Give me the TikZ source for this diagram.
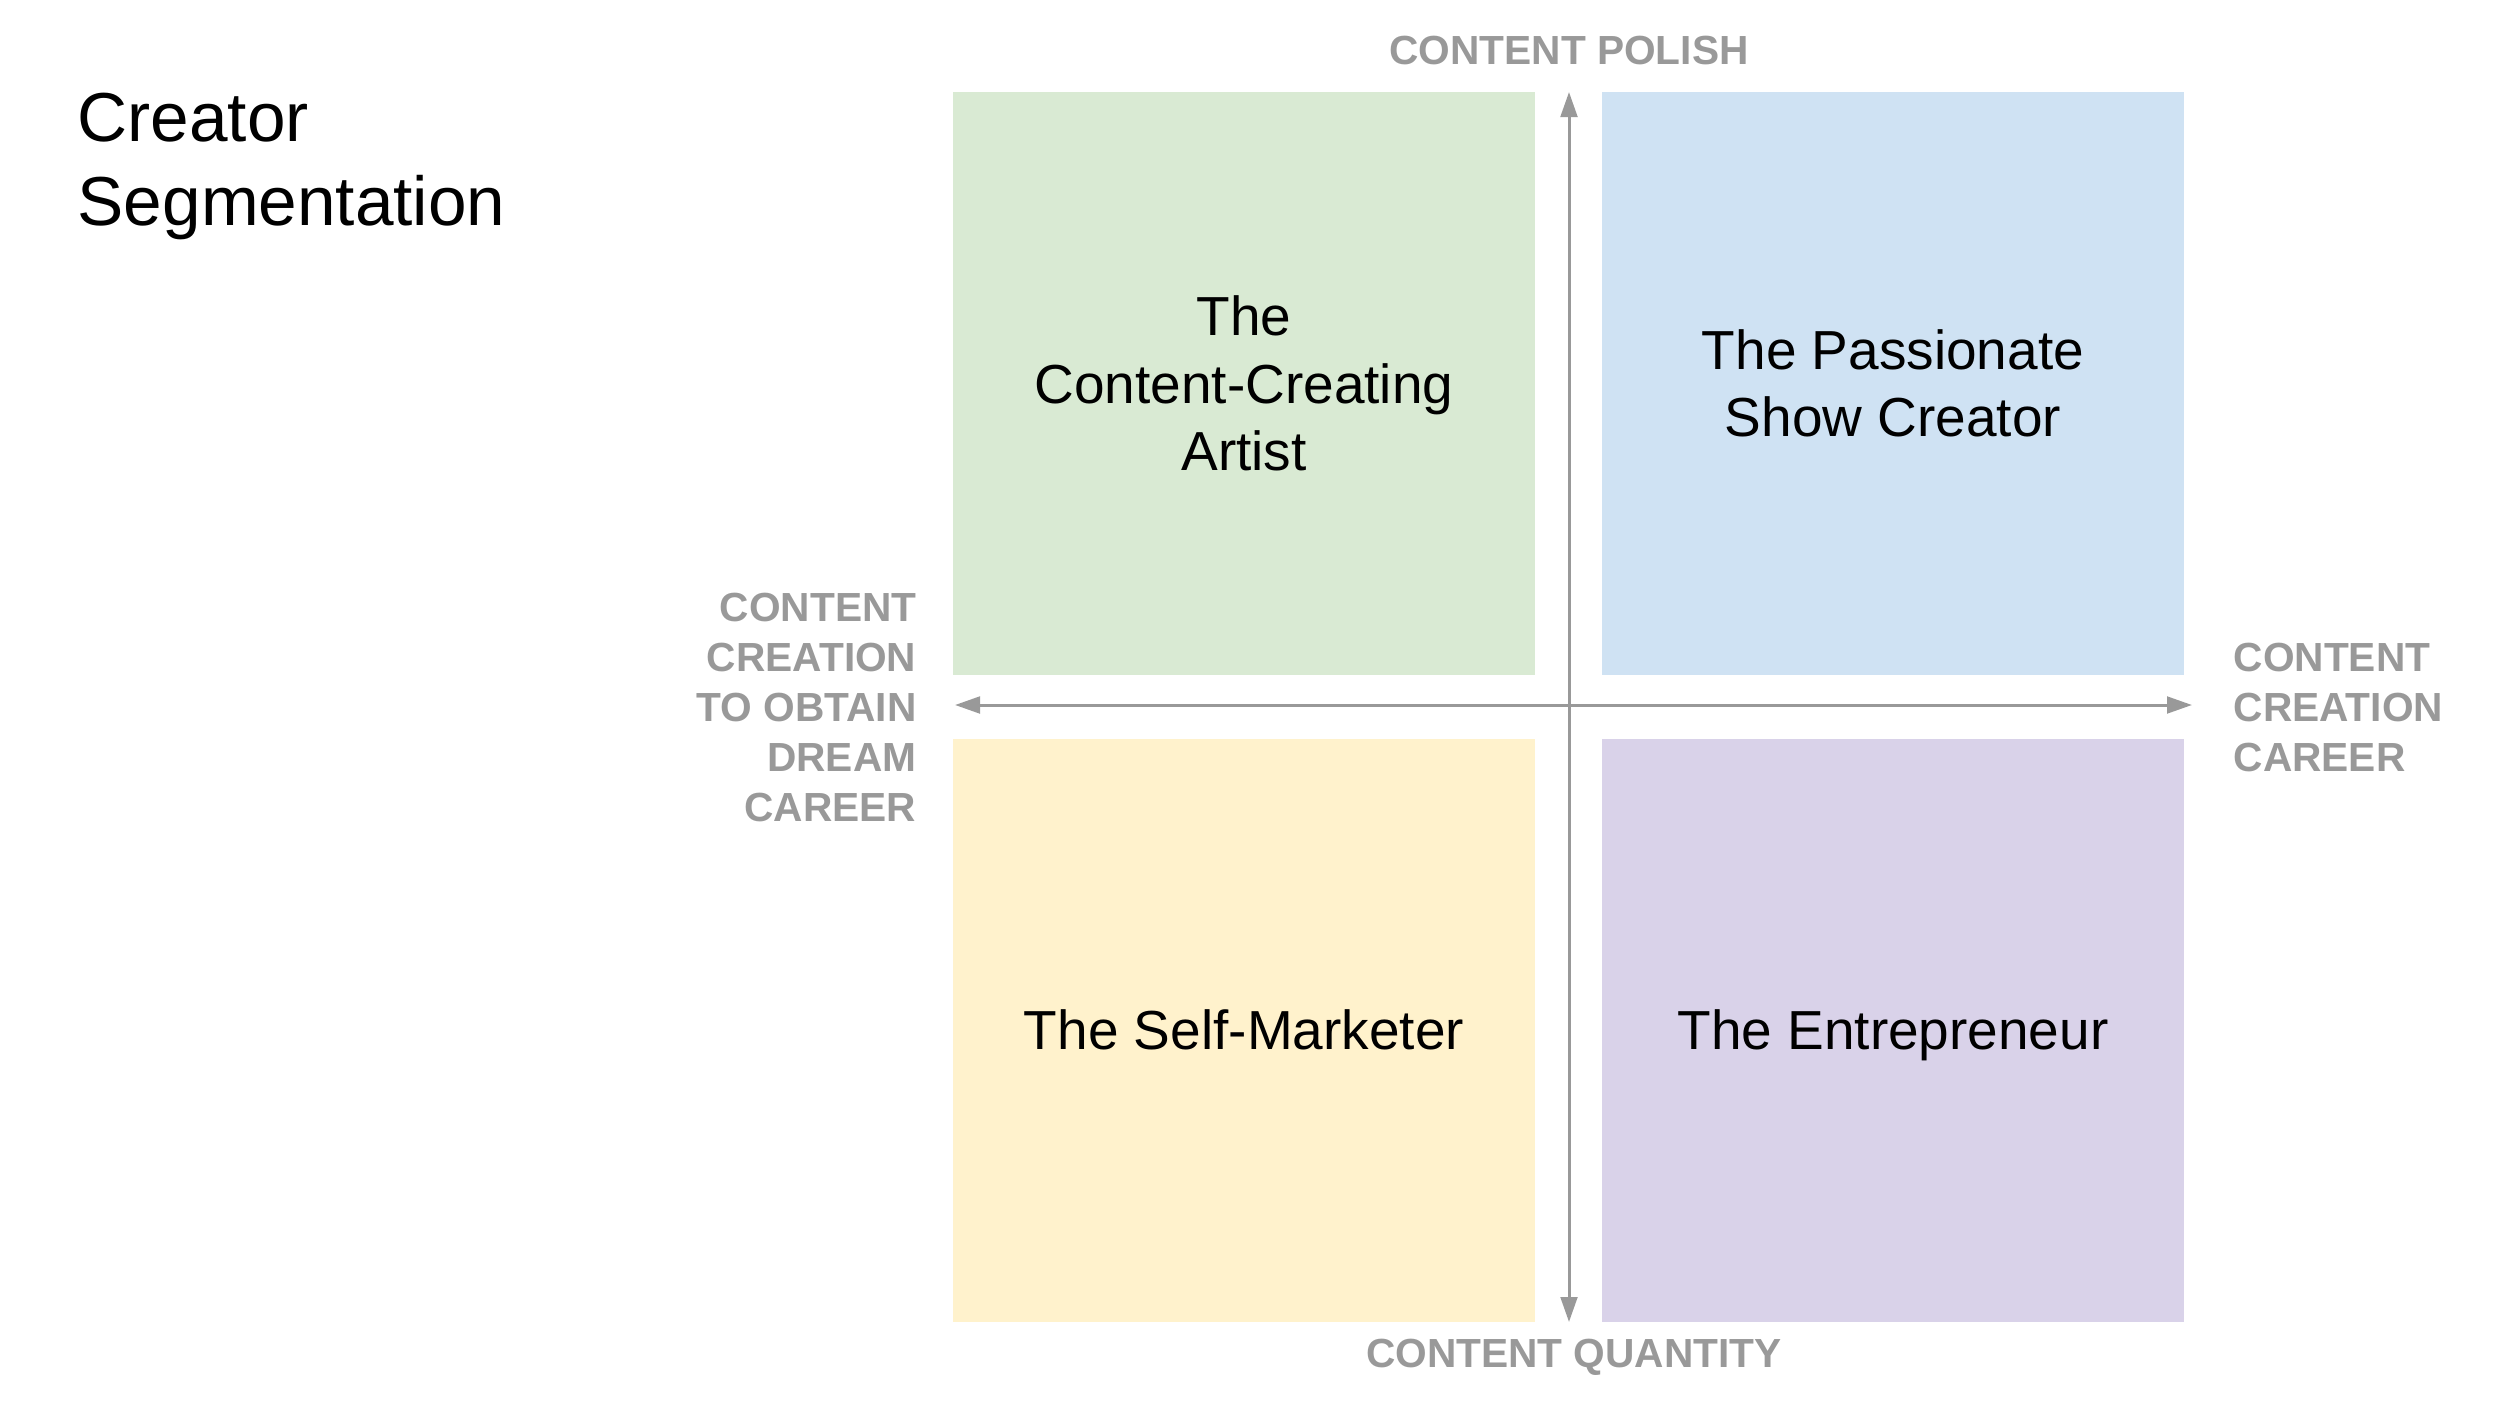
\documentclass[tikz,border=0pt]{standalone}
\usepackage{fontspec}
\setmainfont{Liberation Sans}
\usetikzlibrary{arrows.meta}
\definecolor{qgreen}{HTML}{D9EAD3}
\definecolor{qblue}{HTML}{CFE2F3}
\definecolor{qyellow}{HTML}{FFF2CC}
\definecolor{qpurple}{HTML}{D9D2E9}
\definecolor{axisgray}{HTML}{999999}
\tikzset{
  quad/.style={rectangle, draw=none, minimum width=174.6pt, minimum height=174.9pt, inner sep=0pt, align=center, font=\fontsize{16.5}{20.25}\selectfont, text=black},
  axislabel/.style={inner sep=0pt, text=axisgray, font=\fontsize{12.2}{15}\selectfont\bfseries},
  axisline/.style={draw=axisgray, line width=0.9pt, {Triangle[length=7.5pt,width=5pt]}-{Triangle[length=7.5pt,width=5pt]}},
}
\begin{document}
\begin{tikzpicture}[x=0.3pt,y=-0.3pt]
\useasboundingbox (0,0) rectangle (2500,1405);
% title
\node[anchor=north west, inner sep=0pt, align=left, font=\fontsize{20.8}{25.2}\selectfont] (title) at (77,92) {Creator\\Segmentation};
% quadrants
\node[quad, fill=qgreen] (artist) at (1244,383.5) {The\\Content-Creating\\Artist};
\node[quad, fill=qblue] (show) at (1893,383.5) {The Passionate\\Show Creator};
\node[quad, fill=qyellow, text depth=0pt] (self) at (1244,1030) {The Self-Marketer};
\node[quad, fill=qpurple, text depth=0pt] (entre) at (1893,1030) {The Entrepreneur};
% axes
\coordinate (ytop) at (1569,92);
\coordinate (ybot) at (1569,1322);
\coordinate (xleft) at (955,705);
\coordinate (xright) at (2192,705);
\draw[axisline] (xleft) -- (xright);
\draw[axisline] (ybot) -- (ytop);
% axis labels
\node[axislabel] (polish) at (1569,51) {CONTENT POLISH};
\node[axislabel] (quantity) at (1574,1357) {CONTENT QUANTITY};
\node[axislabel, anchor=east, align=right] (dream) at (917,707) {CONTENT\\CREATION\\TO OBTAIN\\DREAM\\CAREER};
\node[axislabel, anchor=west, align=left] (career) at (2233,707) {CONTENT\\CREATION\\CAREER};
\end{tikzpicture}
\end{document}
